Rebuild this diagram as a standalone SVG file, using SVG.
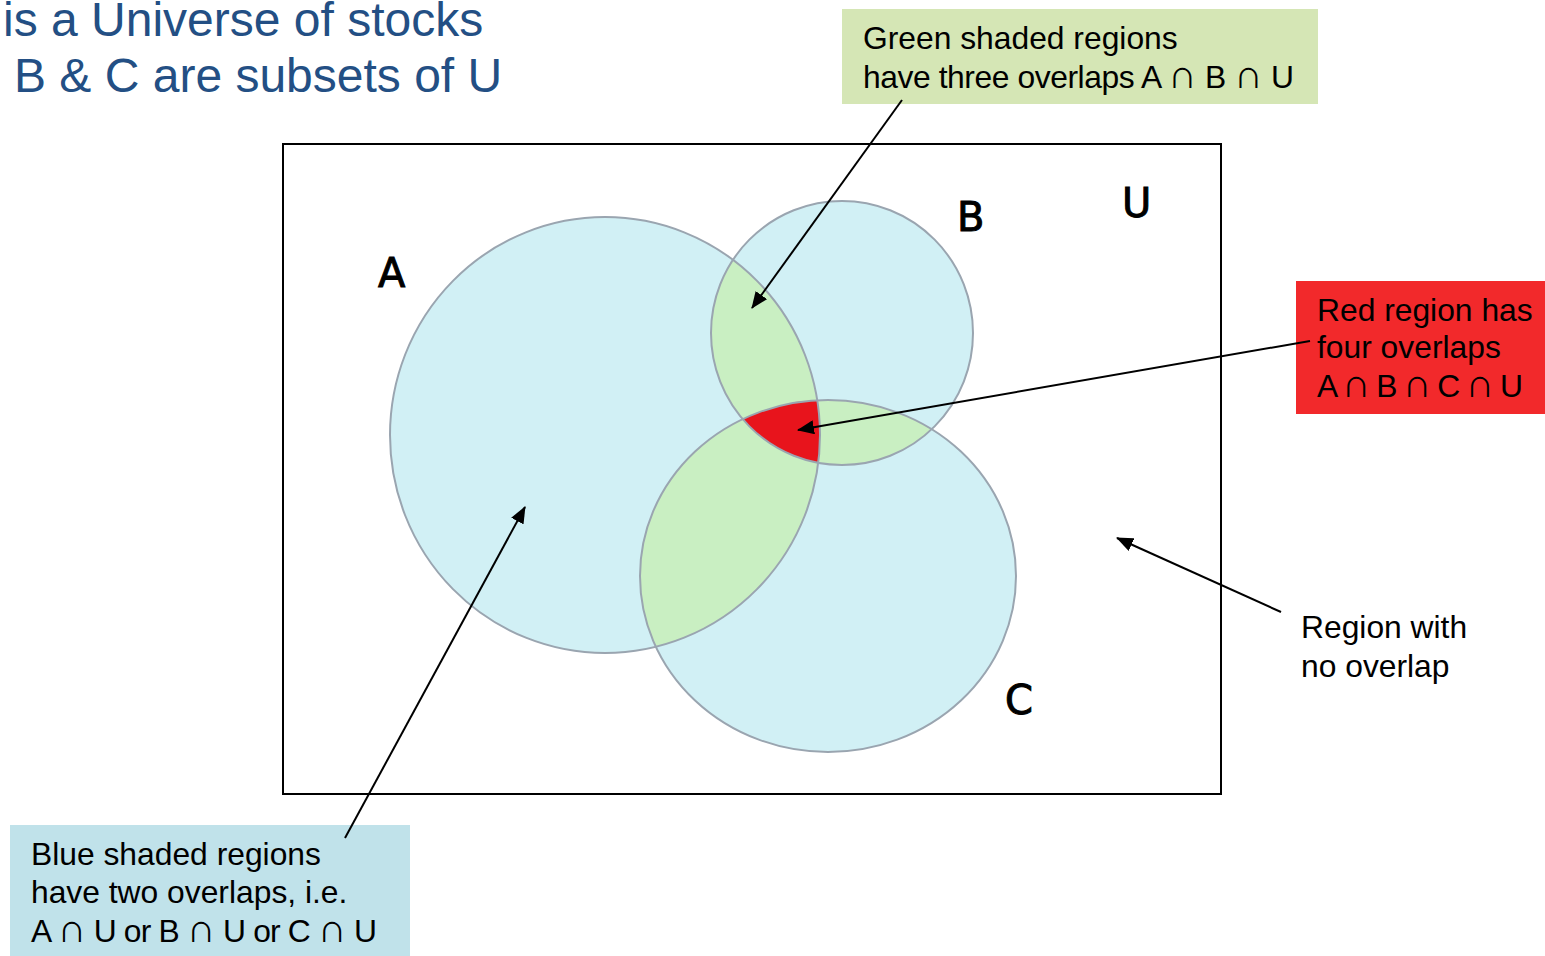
<svg xmlns="http://www.w3.org/2000/svg" width="1545" height="956" viewBox="0 0 1545 956">
<style>
.title{font-family:"Liberation Sans",Arial,sans-serif;font-size:48px;fill:#234f84}
.lbl{font-family:"Liberation Sans",Arial,sans-serif;font-size:31.8px;fill:#000}
.cap{font-size:40px}
.set{font-family:"DejaVu Sans",Verdana,sans-serif;font-size:40px;fill:#000;stroke:#000;stroke-width:1}
.circ{fill:none;stroke:#9aa5b0;stroke-width:2}
.conn{stroke:#000;stroke-width:2;fill:none;marker-end:url(#arr)}
</style>
<defs>
<marker id="arr" markerUnits="userSpaceOnUse" markerWidth="18" markerHeight="14" refX="16" refY="7" orient="auto">
<path d="M0,0 L17,7 L0,14 z" fill="#000"/>
</marker>
<clipPath id="clipA"><ellipse cx="605" cy="435" rx="215" ry="218"/></clipPath>
<clipPath id="clipB"><ellipse cx="842" cy="333" rx="131" ry="132"/></clipPath>
</defs>
<rect width="1545" height="956" fill="#fff"/>
<g id="title">
<text class="title" x="3" y="36">is a Universe of stocks</text>
<text class="title" x="14" y="92">B &amp; C are subsets of U</text>
</g>
<g id="universe">
<rect x="283" y="144" width="938" height="650" fill="#fff" stroke="#000" stroke-width="2"/>
<text class="set" x="1122" y="217">U</text>
</g>
<g id="venn">
<ellipse cx="605" cy="435" rx="215" ry="218" fill="#d1f0f5"/>
<ellipse cx="842" cy="333" rx="131" ry="132" fill="#d1f0f5"/>
<ellipse cx="828" cy="576" rx="188" ry="176" fill="#d1f0f5"/>
<g clip-path="url(#clipA)"><ellipse cx="842" cy="333" rx="131" ry="132" fill="#c9efc2"/><ellipse cx="828" cy="576" rx="188" ry="176" fill="#c9efc2"/></g>
<g clip-path="url(#clipB)"><ellipse cx="828" cy="576" rx="188" ry="176" fill="#c9efc2"/></g>
<g clip-path="url(#clipA)"><g clip-path="url(#clipB)"><ellipse cx="828" cy="576" rx="188" ry="176" fill="#e8141c"/></g></g>
<ellipse class="circ" cx="605" cy="435" rx="215" ry="218"/>
<ellipse class="circ" cx="842" cy="333" rx="131" ry="132"/>
<ellipse class="circ" cx="828" cy="576" rx="188" ry="176"/>
</g>
<g id="setA"><text class="set" x="378" y="287">A</text></g>
<g id="setB"><text class="set" x="957" y="231">B</text></g>
<g id="setC"><text class="set" x="1005" y="714">C</text></g>
<g id="greenLabel">
<rect x="842" y="9" width="476" height="95" fill="#d5e6b5"/>
<text class="lbl" x="863" y="49">Green shaded regions</text>
<text class="lbl" x="863" y="88" textLength="431" lengthAdjust="spacing">have three overlaps A <tspan class="cap">∩</tspan> B <tspan class="cap">∩</tspan> U</text>
</g>
<g id="redLabel">
<rect x="1296" y="281" width="249" height="133" fill="#f2292b"/>
<text class="lbl" x="1317" y="321">Red region has</text>
<text class="lbl" x="1317" y="358">four overlaps</text>
<text class="lbl" x="1317" y="397" textLength="206" lengthAdjust="spacing">A <tspan class="cap">∩</tspan> B <tspan class="cap">∩</tspan> C <tspan class="cap">∩</tspan> U</text>
</g>
<g id="blueLabel">
<rect x="10" y="825" width="400" height="131" fill="#c0e2ea"/>
<text class="lbl" x="31" y="865">Blue shaded regions</text>
<text class="lbl" x="31" y="903">have two overlaps, i.e.</text>
<text class="lbl" x="31" y="942" textLength="346" lengthAdjust="spacing">A <tspan class="cap">∩</tspan> U or B <tspan class="cap">∩</tspan> U or C <tspan class="cap">∩</tspan> U</text>
</g>
<g id="noOverlapLabel">
<text class="lbl" x="1301" y="638">Region with</text>
<text class="lbl" x="1301" y="677">no overlap</text>
</g>
<g id="connectors">
<line class="conn" x1="902" y1="100" x2="752" y2="308"/>
<line class="conn" x1="1310" y1="341" x2="798" y2="430"/>
<line class="conn" x1="345" y1="838" x2="525" y2="507"/>
<line class="conn" x1="1281" y1="612" x2="1117" y2="538"/>
</g>
</svg>
